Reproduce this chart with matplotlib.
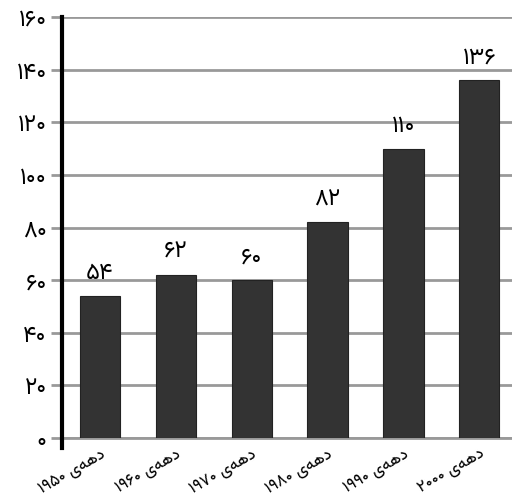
import matplotlib
matplotlib.use("Agg")
import matplotlib.pyplot as plt
from matplotlib.lines import Line2D

# داده‌ها
decades = ["۱۹۵۰", "۱۹۶۰", "۱۹۷۰", "۱۹۸۰", "۱۹۹۰", "۲۰۰۰"]
values = [54, 62, 60, 82, 110, 136]
value_labels = ["۵۴", "۶۲", "۶۰", "۸۲", "۱۱۰", "۱۳۶"]
y_ticks = [0, 20, 40, 60, 80, 100, 120, 140, 160]
y_tick_labels = ["۰", "۲۰", "۴۰", "۶۰", "۸۰", "۱۰۰", "۱۲۰", "۱۴۰", "۱۶۰"]

# "دهه‌ی" با شکل‌های نمایشی (matplotlib حروف را به هم نمی‌چسباند)
DAHE = "\u06cc\ufeea\ufeeb\u062f"

plt.rcParams['font.family'] = ['Vazirmatn', 'DejaVu Sans']

fig = plt.figure(figsize=(5.12, 4.97), dpi=100)
ax = fig.add_axes([62 / 512, 1 - 438 / 497, 1 - 62 / 512, (438 - 17) / 497])

x = list(range(len(values)))
ax.bar(x, values, width=0.53, color="#333333", edgecolor="#222222", linewidth=0.8, zorder=3)

for xi, v, lab in zip(x, values, value_labels):
    ax.text(xi, v + 4.5, lab, ha="center", va="bottom", fontsize=17,
            fontweight="medium", color="black")

ax.set_xlim(-0.5, 5.43)
ax.set_ylim(0, 160)
ax.set_yticks(y_ticks)
ax.set_yticklabels(y_tick_labels, fontsize=17, fontweight="medium")
ax.yaxis.grid(True, color="#999999", linewidth=2, zorder=0)
ax.set_axisbelow(True)

ax.set_xticks(x)
ax.set_xticklabels([d + " " + DAHE for d in decades], rotation=30, ha="right",
                   rotation_mode="anchor", fontsize=12, fontweight="medium")
ax.tick_params(axis="x", length=0, pad=6)
ax.tick_params(axis="y", length=8, width=2, color="#999999", pad=3)

for s in ["top", "right", "left"]:
    ax.spines[s].set_visible(False)
ax.spines["bottom"].set_color("#999999")
ax.spines["bottom"].set_linewidth(2)

# محور عمودی سیاه که کمی پایین‌تر از صفر ادامه دارد
ax.add_line(Line2D([0, 0], [-0.024, 1.0], transform=ax.transAxes, color="black",
                   linewidth=3, clip_on=False, zorder=5))

fig.savefig("out.png", dpi=100)
